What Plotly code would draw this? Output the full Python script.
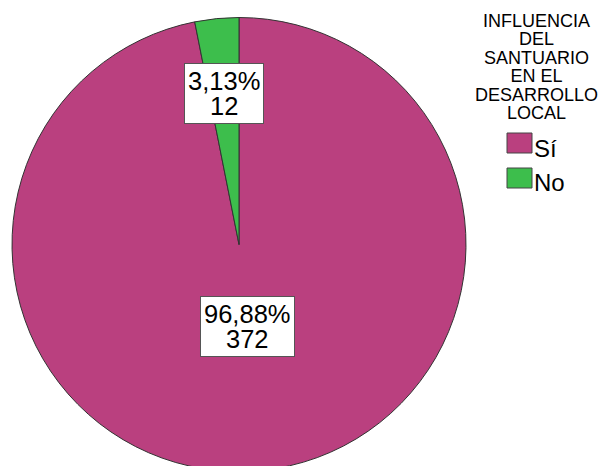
import math
import plotly.graph_objects as go

labels = ["Sí", "No"]
counts = [372, 12]
percent_text = ["96,88%", "3,13%"]
colors = ["#BA407F", "#3DBE4C"]
legend_title_lines = ["INFLUENCIA", "DEL", "SANTUARIO", "EN EL", "DESARROLLO", "LOCAL"]

W, H = 606, 466
OFF = 8  # page body margin offset
FONT = "Liberation Sans, Arial"

# pie placement (page pixels)
left, right, top = 12 - OFF, 466 - OFF, 15 - OFF
dom_x = [left / W, right / W]
dom_y = [0, 1 - top / H]
r = min(right - left, H - top) / 2
cx = (left + right) / 2
cy = top + r

label_rfrac = [0.375, 0.656]

fig = go.Figure()
fig.add_trace(go.Pie(
    labels=labels, values=counts, sort=False, direction="clockwise", rotation=0,
    marker=dict(colors=colors, line=dict(color="#333333", width=1)),
    textinfo="none", hoverinfo="label+value+percent", showlegend=False,
    domain=dict(x=dom_x, y=dom_y),
))

annotations = []
shapes = []
total = sum(counts)
cum = 0
for i, v in enumerate(counts):
    mid = (cum + v / 2) / total * 2 * math.pi
    cum += v
    px = cx + label_rfrac[i] * r * math.sin(mid)
    py = cy - label_rfrac[i] * r * math.cos(mid)
    txt = (f'<span style="font-size:25.5px">{percent_text[i]}</span><br>'
           f'<span style="font-size:25.5px">{counts[i]}</span>')
    annotations.append(dict(
        x=px / W, y=1 - py / H, xref="paper", yref="paper",
        text=txt, showarrow=False,
        font=dict(family=FONT, size=19, color="#000000"),
        bgcolor="#FFFFFF", bordercolor="#555555", borderwidth=1, borderpad=3,
        xanchor="center", yanchor="middle", align="center",
    ))

# legend title (tight line spacing like the reference)
title_txt = "<br>".join(f'<span style="font-size:18px">{t}</span>' for t in legend_title_lines)
annotations.append(dict(
    x=(536 - OFF) / W, y=1 - (67 - OFF) / H, xref="paper", yref="paper",
    text=title_txt, showarrow=False, xanchor="center", yanchor="middle", align="center",
    font=dict(family=FONT, size=14.2, color="#000000"),
))

leg_x0, leg_y0, sw_w, sw_h, pitch = 507 - OFF, 133 - OFF, 25, 20, 35
for i, lab in enumerate(labels):
    y0 = leg_y0 + i * pitch
    shapes.append(dict(type="rect", xref="paper", yref="paper",
                       x0=leg_x0 / W, x1=(leg_x0 + sw_w) / W,
                       y0=1 - y0 / H, y1=1 - (y0 + sw_h) / H,
                       fillcolor=colors[i], line=dict(color="#444444", width=1)))
    annotations.append(dict(
        x=(leg_x0 + sw_w) / W, y=1 - (y0 + sw_h / 2 + 5) / H, xref="paper", yref="paper",
        text=lab, showarrow=False, xanchor="left", yanchor="middle",
        font=dict(family=FONT, size=24, color="#000000"),
    ))

fig.update_layout(
    width=W, height=H, margin=dict(l=0, r=0, t=0, b=0),
    paper_bgcolor="#FFFFFF", plot_bgcolor="#FFFFFF",
    annotations=annotations, shapes=shapes,
)
fig.write_html("out.html")
